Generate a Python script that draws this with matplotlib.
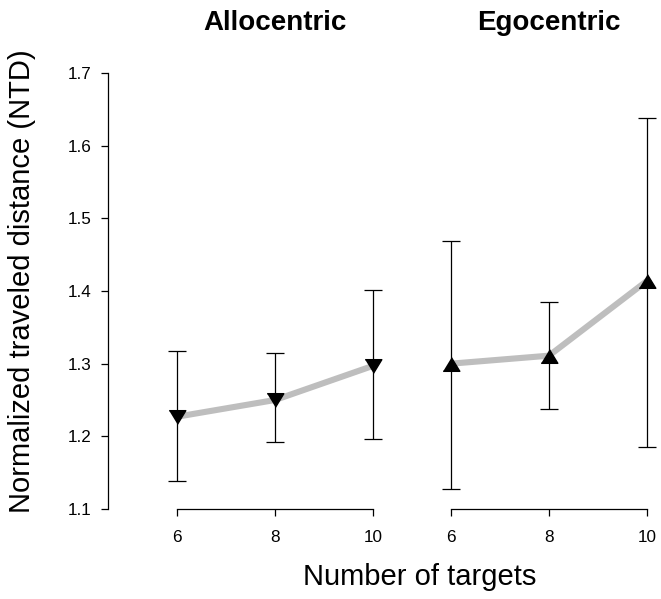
import numpy as np
import matplotlib
matplotlib.use("Agg")
import matplotlib.pyplot as plt

plt.rcParams["font.family"] = ["Liberation Sans", "DejaVu Sans"]

# Werte
n_targets = [6, 8, 10]
panels = ["Allocentric", "Egocentric"]
allo_mean = [1.227, 1.250, 1.297]
allo_low = [1.139, 1.192, 1.196]
allo_high = [1.317, 1.315, 1.401]
ego_mean = [1.300, 1.311, 1.414]
ego_low = [1.128, 1.238, 1.185]
ego_high = [1.469, 1.385, 1.638]
y_ticks = [1.1, 1.2, 1.3, 1.4, 1.5, 1.6, 1.7]

W, H = 661, 599
fig = plt.figure(figsize=(W / 100, H / 100), dpi=100)

# Pixelgeometrie
px_unit_x = 49.0
px_unit_y = 726.7
y_top_px, y_bot_px = 60, 520
ylim = (1.1 - (y_bot_px - 509) / px_unit_y, 1.7 + (73 - y_top_px) / px_unit_y)


def make_axes(left_px, right_px, x6_px):
    pos = [left_px / W, 1 - y_bot_px / H, (right_px - left_px) / W, (y_bot_px - y_top_px) / H]
    ax = fig.add_axes(pos)
    ax.set_xlim(6 - (x6_px - left_px) / px_unit_x, 6 + (right_px - x6_px) / px_unit_x)
    ax.set_ylim(*ylim)
    return ax


tri_down = [(-1, 0.82), (1, 0.82), (0, -0.82)]
tri_up = [(-1, -0.82), (1, -0.82), (0, 0.82)]

ax1 = make_axes(108, 392, 177)
ax2 = make_axes(432, 661, 451)

data = [
    (ax1, allo_mean, allo_low, allo_high, tri_down),
    (ax2, ego_mean, ego_low, ego_high, tri_up),
]

for (ax, mean, low, high, marker), title in zip(data, panels):
    mean = np.array(mean)
    err = [mean - np.array(low), np.array(high) - mean]
    ax.plot(n_targets, mean, color="#bebebe", lw=4.4, solid_capstyle="butt", zorder=1)
    ax.errorbar(n_targets, mean, yerr=err, fmt="none", ecolor="black",
                elinewidth=0.9, capsize=6.5, capthick=0.9, zorder=2)
    ax.plot(n_targets, mean, linestyle="none", marker=marker, ms=12,
            color="black", zorder=3)

    for s in ["top", "right"]:
        ax.spines[s].set_visible(False)
    ax.patch.set_visible(False)
    ax.spines["bottom"].set_position(("data", 1.1))
    ax.spines["bottom"].set_bounds(6, 10)
    ax.spines["bottom"].set_linewidth(0.9)
    ax.set_xticks(n_targets)
    ax.set_xticklabels([str(v) for v in n_targets])
    ax.tick_params(axis="x", direction="out", length=5, width=0.9, pad=10, labelsize=12.3)

    ax.text(8, 1.7 + (73 - 23) / px_unit_y, title, ha="center", va="center",
            fontsize=20, fontweight="bold", clip_on=False)

ax1.spines["left"].set_bounds(1.1, 1.7)
ax1.spines["left"].set_linewidth(0.9)
ax1.set_yticks(y_ticks)
ax1.set_yticklabels([f"{v:.1f}" for v in y_ticks])
ax1.tick_params(axis="y", direction="out", length=5, width=0.9, pad=7, labelsize=12.3)

ax2.spines["left"].set_visible(False)
ax2.set_yticks([])

fig.text(420 / W, 1 - 577 / H, "Number of targets", ha="center", va="center", fontsize=21)
fig.text(22 / W, 1 - 281 / H, "Normalized traveled distance (NTD)", ha="center",
         va="center", rotation=90, fontsize=21)

fig.savefig("out.png", dpi=100)
